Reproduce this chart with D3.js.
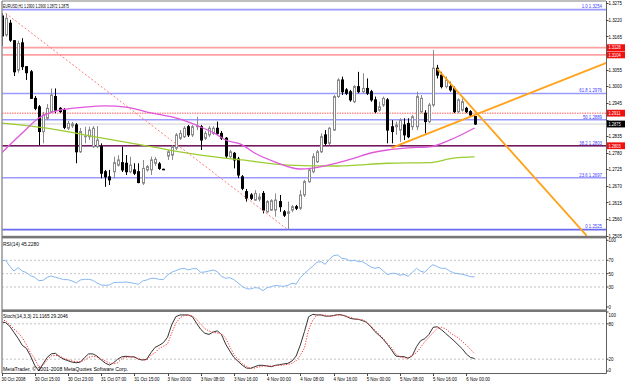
<!DOCTYPE html>
<html><head><meta charset="utf-8">
<script src="https://cdn.jsdelivr.net/npm/d3@7"></script>
<style>html,body{margin:0;padding:0;background:#fff;}svg{display:block;}</style>
</head><body>
<svg id="c" width="625" height="382"></svg>
<script>
// ---------- DATA (EURUSD H1) ----------
const open=[1.3233,1.3170,1.3209,1.3151,1.3054,1.3144,1.3065,1.3048,1.2960,1.2932,
1.2850,1.2894,1.2916,1.2966,1.2927,1.2921,1.2861,1.2869,1.2872,1.2783,
1.2833,1.2833,1.2800,1.2800,1.2800,1.2717,1.2700,1.2717,1.2739,1.2747,
1.2745,1.2717,1.2723,1.2717,1.2679,1.2723,1.2723,1.2745,1.2743,1.2725,
1.2769,1.2772,1.2795,1.2828,1.2833,1.2866,1.2839,1.2866,1.2866,1.2828,
1.2839,1.2844,1.2861,1.2844,1.2828,1.2767,1.2778,1.2759,1.2700,1.2651,
1.2640,1.2623,1.2626,1.2645,1.2584,1.2590,1.2590,1.2618,1.2584,1.2579,
1.2590,1.2601,1.2596,1.2640,1.2684,1.2717,1.2750,1.2783,1.2839,1.2811,
1.2855,1.2966,1.3021,1.2988,1.2982,1.2949,1.2999,1.2982,1.2993,1.2982,
1.2955,1.2921,1.2938,1.2955,1.2866,1.2866,1.2855,1.2872,1.2877,1.2866,
1.2866,1.2916,1.2911,1.2883,1.2938,1.3060,1.3037,1.2999,1.2999,1.2993,
1.2916,1.2921,1.2927,1.2916,1.2900];
const high=[1.3243,1.3242,1.3220,1.3153,1.3151,1.3159,1.3067,1.3054,1.2968,1.2938,
1.2915,1.2941,1.2993,1.2993,1.2931,1.2928,1.2885,1.2882,1.2878,1.2862,
1.2866,1.2866,1.2868,1.2868,1.2811,1.2723,1.2723,1.2767,1.2772,1.2800,
1.2772,1.2767,1.2745,1.2745,1.2756,1.2739,1.2767,1.2766,1.2749,1.2727,
1.2789,1.2805,1.2845,1.2855,1.2868,1.2872,1.2872,1.2899,1.2872,1.2852,
1.2868,1.2868,1.2883,1.2852,1.2832,1.2789,1.2782,1.2766,1.2706,1.2660,
1.2646,1.2656,1.2645,1.2653,1.2623,1.2626,1.2645,1.2640,1.2590,1.2618,
1.2607,1.2607,1.2656,1.2690,1.2729,1.2778,1.2789,1.2844,1.2855,1.2865,
1.2971,1.3027,1.3032,1.2994,1.2988,1.3004,1.3048,1.3043,1.3026,1.2988,
1.2966,1.2949,1.2966,1.2961,1.2888,1.2883,1.2894,1.2894,1.2894,1.2905,
1.2982,1.2971,1.2921,1.2945,1.3120,1.3071,1.3048,1.3032,1.3015,1.2999,
1.2960,1.2960,1.2932,1.2921,1.2900];
const low=[1.3134,1.3164,1.3147,1.3034,1.3045,1.3054,1.3021,1.2958,1.2921,1.2805,
1.2811,1.2888,1.2912,1.2911,1.2912,1.2858,1.2855,1.2862,1.2745,1.2779,
1.2811,1.2822,1.2796,1.2795,1.2695,1.2667,1.2673,1.2695,1.2734,1.2716,
1.2706,1.2712,1.2706,1.2679,1.2673,1.2717,1.2706,1.2736,1.2723,1.2723,
1.2756,1.2756,1.2789,1.2822,1.2829,1.2832,1.2832,1.2855,1.2789,1.2822,
1.2832,1.2839,1.2839,1.2822,1.2762,1.2762,1.2728,1.2696,1.2656,1.2618,
1.2623,1.2620,1.2618,1.2579,1.2581,1.2587,1.2568,1.2584,1.2567,1.2525,
1.2583,1.2590,1.2590,1.2633,1.2680,1.2712,1.2746,1.2779,1.2805,1.2805,
1.2852,1.2961,1.2971,1.2971,1.2949,1.2944,1.2977,1.2977,1.2971,1.2949,
1.2911,1.2916,1.2932,1.2811,1.2811,1.2839,1.2816,1.2822,1.2828,1.2855,
1.2855,1.2911,1.2844,1.2878,1.2932,1.3026,1.2993,1.2993,1.2982,1.2911,
1.2911,1.2916,1.2911,1.2902,1.2872];
const close=[1.3167,1.3225,1.3153,1.3048,1.3142,1.3065,1.3045,1.2960,1.2927,1.2850,
1.2905,1.2927,1.2971,1.2921,1.2916,1.2864,1.2877,1.2875,1.2783,1.2850,
1.2835,1.2855,1.2861,1.2822,1.2712,1.2700,1.2690,1.2747,1.2756,1.2723,
1.2717,1.2739,1.2712,1.2681,1.2728,1.2734,1.2756,1.2758,1.2728,1.2724,
1.2783,1.2800,1.2839,1.2844,1.2861,1.2839,1.2866,1.2868,1.2822,1.2844,
1.2861,1.2861,1.2844,1.2828,1.2769,1.2783,1.2756,1.2706,1.2662,1.2629,
1.2629,1.2645,1.2633,1.2590,1.2618,1.2621,1.2623,1.2601,1.2573,1.2584,
1.2601,1.2596,1.2640,1.2684,1.2723,1.2767,1.2783,1.2833,1.2811,1.2861,
1.2966,1.3021,1.2982,1.2977,1.2955,1.2999,1.2982,1.2993,1.2977,1.2955,
1.2916,1.2932,1.2960,1.2855,1.2850,1.2872,1.2888,1.2839,1.2833,1.2899,
1.2966,1.2960,1.2883,1.2938,1.3060,1.3037,1.2999,1.3021,1.2988,1.2916,
1.2955,1.2949,1.2916,1.2905,1.2875];

const rsi=[69,70,61,54,59,54,51.5,47,44.5,39.5,
40,44.5,46.5,44.5,43,41,41,39,36,40.5,
41.5,41.5,40,36,33,32.5,33,36.5,37,37,
37.5,36.5,35.5,34,39,40.5,43,43,41.5,41,
48,52,54.5,57,58,55.5,57.5,57.5,52,52.5,
54,55.5,53,46,43,44,41,36,31,27.5,
27,29,28.5,24.5,29,30.5,32.5,31.5,31,32.5,
35.5,34.5,44,50,56,61,67,68,64,71.5,
77,78,73,72,69,70,68,68,64,60,
58,59.5,54,48.5,50.5,50.5,47.5,49,46,52,
58,53.5,52,59,63.5,60.5,58,58,54,51,
50,49,47.5,45.5,45.2];

const stochMain=[83,82,75.7,65.5,55.4,43.5,38.4,25.4,9.6,0.5,
12,23,29,30,24,20,17.5,15,14,15,
22.6,29,29,25.4,19,13.5,10,14,20,24,
25,24,24,20,18.6,20,31,40,43.5,48,
57,78,92,95,95,95,92,81,70.6,64,
62,66,68,62,45.8,34,23,16.4,10,5,
4.5,7.3,9.6,9.6,8.5,7.3,9.6,10.7,12,13,
17,25.4,44,66.7,92,96,95,95,93,93,
94,95.5,95,92.7,89.3,88,87.6,85.3,82.5,75,
66.7,60.5,53.7,45,35.6,25.4,24.3,24.3,21.5,26,
41.2,51.4,54.8,62,74,75,70,63.8,57.6,51.4,
44.6,37.8,28.8,23,21.1];
const stochSignal=[88,84.7,78.5,71.2,65,56.5,44.6,30.5,21,6.8,
9.6,18.6,25.4,26.6,25.4,21.5,19.2,17,15.8,15.8,
18.6,23.2,24.9,23.7,20.3,17,13.6,12.4,14.1,20.9,
23.2,24.3,23.2,20.9,18.6,18.6,26.6,31,38.4,41.8,
45.8,63.8,80.8,90.4,93.8,94.9,93.2,87.6,79.7,71.8,
67.8,65.5,64.4,63.3,56,41.2,28.2,19.8,12.4,7.9,
4.5,5,6.8,8.5,8.5,8.5,9,9.6,10.2,11.3,
13,17.5,26.6,39,70,86,95,95,95,92,
93.8,95,95,93.2,91,88.7,87.6,87,82.5,76.3,
69.5,62,55.4,46.3,39.5,28.8,24.3,22,22.6,26.6,
31,40,49.7,57,65,72.3,74,71.8,65.5,60.5,
56.5,50.3,44,36.7,29.2];

const maFastBars=[0,5,9,14,20,25,30,36,42,48,52,54,58,61,66,72,75,81,85,89,93,98,103,108,114];
const maFastVals=[1.2779,1.2845,1.2895,1.2921,1.2931,1.2935,1.2931,1.2912,1.2895,1.2865,1.2839,1.2822,1.2806,1.2779,1.2749,1.2726,1.2729,1.2746,1.2762,1.2779,1.2789,1.2796,1.2799,1.2822,1.2862];
const maSlowBars=[0,12,24,36,48,58,69,81,93,103,109,114];
const maSlowVals=[1.2878,1.2859,1.2829,1.2800,1.2772,1.2756,1.2739,1.2736,1.2745,1.2747,1.2762,1.2766];

const fibRatios=["1.0","61.8","50","38.2","23.6","0"];
const fibPrices=[1.3254,1.2976,1.2889,1.2803,1.2697,1.2525];
const resistLevels=[1.3128,1.3104];
const dottedLevel=1.2911;
const supportLevel=1.2803;
const bidPrice=1.2875;

const redTrendBars=[1,69], redTrendPrices=[1.3242,1.2525];
const orangeDownBars=[105,141], orangeDownPrices=[1.3058,1.2505];
const orangeUpBars=[94,146], orangeUpPrices=[1.2796,1.3079];

const priceTicks=[1.3275,1.3220,1.3165,1.3110,1.3055,1.3000,1.2945,1.2890,1.2835,1.2780,1.2725,1.2670,1.2615,1.2560,1.2505];
const rsiTicks=[100,70,50,30,0];
const stochTicks=[100,80,20,0];
const timeLabels=["30 Oct 2008","30 Oct 15:00","30 Oct 23:00","31 Oct 07:00","31 Oct 15:00","3 Nov 00:00","3 Nov 08:00","3 Nov 16:00","4 Nov 00:00","4 Nov 08:00","4 Nov 16:00","5 Nov 00:00","5 Nov 08:00","5 Nov 16:00","6 Nov 00:00"];
const timeLabelBars=[0,8,16,24,32,40,48,56,64,72,80,88,96,104,112];

// ---------- DRAW ----------
const svg=d3.select('#c');
const FONT='"Liberation Sans", Arial, sans-serif';
const RIGHT=606;
const x=d3.scaleLinear().domain([0,114]).range([1.5,474.6]);
const y=d3.scaleLinear().domain([1.3275,1.2505]).range([3.3,235.7]);
const yR=d3.scaleLinear().domain([0,100]).range([307,240.3]);
const yS=d3.scaleLinear().domain([0,100]).range([371,312]);

const defs=svg.append('defs');
[['clipMain',2.5,1.5,RIGHT-2.5,234.5],['clipR',2.5,238.5,RIGHT-2.5,71],['clipS',2.5,312,RIGHT-2.5,61]].forEach(c=>{
  defs.append('clipPath').attr('id',c[0]).append('rect').attr('x',c[1]).attr('y',c[2]).attr('width',c[3]).attr('height',c[4]);
});

function label(xx,yy,s,o={}){
  const size=o.size||5.5,k=o.k||0.8;
  const t=svg.append('text').attr('x',xx).attr('y',yy).attr('font-family',FONT)
    .attr('font-size',size).attr('fill',o.fill||'#000').attr('text-anchor',o.anchor||'start').text(s);
  const L=o.w!=null?o.w:t.node().getComputedTextLength()*k;
  t.attr('textLength',L).attr('lengthAdjust','spacingAndGlyphs');
  return t;
}

const gM=svg.append('g').attr('clip-path','url(#clipMain)');
const hline=(g,p,stroke,w,dash)=>g.append('line').attr('x1',2).attr('x2',RIGHT).attr('y1',y(p)).attr('y2',y(p))
  .attr('stroke',stroke).attr('stroke-width',w).attr('stroke-dasharray',dash||null);

fibPrices.forEach((p,i)=>{
  hline(gM,p,fibRatios[i]==="0"?'#6a6af0':'#9a9aff',1.6);
});
resistLevels.forEach(p=>hline(gM,p,'#ffa0a0',1.6));
hline(gM,dottedLevel,'#ff5a5a',1,'1.5,1');
hline(gM,supportLevel,'#7a1a55',1.6);
hline(gM,bidPrice,'#cfcfcf',1);

// candles
const gC=gM.append('g');
d3.range(open.length).forEach(i=>{
  const bull=close[i]>=open[i];
  const cx=Math.round(x(i))+0.5;
  const col=bull?'#8a8a8a':'#000';
  gC.append('line').attr('x1',cx).attr('x2',cx).attr('y1',y(high[i])).attr('y2',y(low[i])).attr('stroke',col).attr('stroke-width',1);
  const t=y(Math.max(open[i],close[i])), b=y(Math.min(open[i],close[i]));
  gC.append('rect').attr('x',cx-1).attr('y',t).attr('width',2).attr('height',Math.max(b-t,0.5))
    .attr('fill',bull?'#fff':'#000').attr('stroke',col).attr('stroke-width',1);
});

// moving averages
const maLine=d3.line().x(d=>x(d[0])).y(d=>y(d[1])).curve(d3.curveMonotoneX);
gM.append('path').attr('d',maLine(maSlowBars.map((b,i)=>[b,maSlowVals[i]]))).attr('fill','none').attr('stroke','#9acd32').attr('stroke-width',1.3);
gM.append('path').attr('d',maLine(maFastBars.map((b,i)=>[b,maFastVals[i]]))).attr('fill','none').attr('stroke','#e056dc').attr('stroke-width',1.3);

// trendlines
const seg=(bars,prices,stroke,w,dash)=>gM.append('line').attr('x1',x(bars[0])).attr('y1',y(prices[0])).attr('x2',x(bars[1])).attr('y2',y(prices[1]))
  .attr('stroke',stroke).attr('stroke-width',w).attr('stroke-dasharray',dash||null);
seg(redTrendBars,redTrendPrices,'#ff7b7b',1,'2,2');
seg(orangeDownBars,orangeDownPrices,'#ffa31a',1.8);
seg(orangeUpBars,orangeUpPrices,'#ffa31a',1.8);

fibPrices.forEach((p,i)=>label(602,y(p)-1.2,fibRatios[i]+" "+p.toFixed(4),{fill:'#3b3bff',anchor:'end',k:0.78}));

// RSI panel
const gR=svg.append('g').attr('clip-path','url(#clipR)');
[70,50,30].forEach(v=>gR.append('line').attr('x1',2).attr('x2',RIGHT).attr('y1',yR(v)).attr('y2',yR(v)).attr('stroke','#c4c4c4').attr('stroke-dasharray','2,2'));
gR.append('path').attr('d',d3.line().x((d,i)=>x(i)).y(d=>yR(d))(rsi)).attr('fill','none').attr('stroke','#86b6f2').attr('stroke-width',1);

// Stoch panel
const gS=svg.append('g').attr('clip-path','url(#clipS)');
[80,20].forEach(v=>gS.append('line').attr('x1',2).attr('x2',RIGHT).attr('y1',yS(v)).attr('y2',yS(v)).attr('stroke','#c4c4c4').attr('stroke-dasharray','2,2'));
gS.append('path').attr('d',d3.line().x((d,i)=>x(i)).y(d=>yS(d))(stochMain)).attr('fill','none').attr('stroke','#333').attr('stroke-width',1);
gS.append('path').attr('d',d3.line().x((d,i)=>x(i)).y(d=>yS(d))(stochSignal)).attr('fill','none').attr('stroke','#ff3030').attr('stroke-width',1).attr('stroke-dasharray','1.2,1.5');

// frame
const frame=svg.append('g');
frame.append('line').attr('x1',2).attr('x2',RIGHT).attr('y1',1).attr('y2',1).attr('stroke','#808080');
frame.append('line').attr('x1',2).attr('x2',2).attr('y1',1).attr('y2',373.5).attr('stroke','#606060');
frame.append('line').attr('x1',RIGHT+0.5).attr('x2',RIGHT+0.5).attr('y1',1).attr('y2',373.5).attr('stroke','#606060');
frame.append('line').attr('x1',2).attr('x2',RIGHT+0.5).attr('y1',373.5).attr('y2',373.5).attr('stroke','#606060');
frame.append('rect').attr('x',2).attr('y',235.8).attr('width',RIGHT-1.5).attr('height',2.6).attr('fill','#777');
frame.append('rect').attr('x',2).attr('y',309.4).attr('width',RIGHT-1.5).attr('height',2.6).attr('fill','#777');

// price axis (tick labels hidden where a price tag covers them)
const tagged=[...resistLevels,dottedLevel,supportLevel,bidPrice];
priceTicks.forEach(p=>{
  svg.append('line').attr('x1',RIGHT).attr('x2',RIGHT+2.5).attr('y1',Math.round(y(p))+0.5).attr('y2',Math.round(y(p))+0.5).attr('stroke','#444');
  const covered=tagged.some(q=>Math.abs(y(q)-y(p))<6.5);
  if(!covered) label(608.5,y(p)+2,p.toFixed(4));
});
rsiTicks.forEach(v=>{
  svg.append('line').attr('x1',RIGHT).attr('x2',RIGHT+2.5).attr('y1',yR(v)).attr('y2',yR(v)).attr('stroke','#444');
  label(608.5,yR(v)+2,String(v));
});
stochTicks.forEach(v=>{
  const yy=Math.max(315,Math.min(369.5,yS(v)));
  svg.append('line').attr('x1',RIGHT).attr('x2',RIGHT+2.5).attr('y1',yS(v)).attr('y2',yS(v)).attr('stroke','#444');
  label(608.5,yy+2,String(v));
});
function tag(p,bg){
  svg.append('rect').attr('x',RIGHT+1).attr('y',y(p)-3.4).attr('width',18).attr('height',6.8).attr('fill',bg);
  label(608.5,y(p)+1.8,p.toFixed(4),{fill:'#fff',size:5});
}
resistLevels.forEach(p=>tag(p,'#f01010'));
tag(dottedLevel,'#f01010');
tag(supportLevel,'#f01010');
tag(bidPrice,'#000');

// time axis
timeLabelBars.forEach((b,i)=>{
  svg.append('line').attr('x1',Math.round(x(b))+0.5).attr('x2',Math.round(x(b))+0.5).attr('y1',373.5).attr('y2',376).attr('stroke','#444');
  label(x(b),380.5,timeLabels[i],{k:0.8});
});

// headers
label(3,7.5,"EURUSD,H1 1.2900 1.2900 1.2872 1.2875",{w:66});
label(3,245.5,"RSI(14) 45.2280",{w:36});
label(3,318,"Stoch(14,3,3) 21.1165 29.2046",{w:65});
label(3,371.3,"MetaTrader, \u00a9 2001-2008 MetaQuotes Software Corp.",{w:125});
</script>
</body></html>
